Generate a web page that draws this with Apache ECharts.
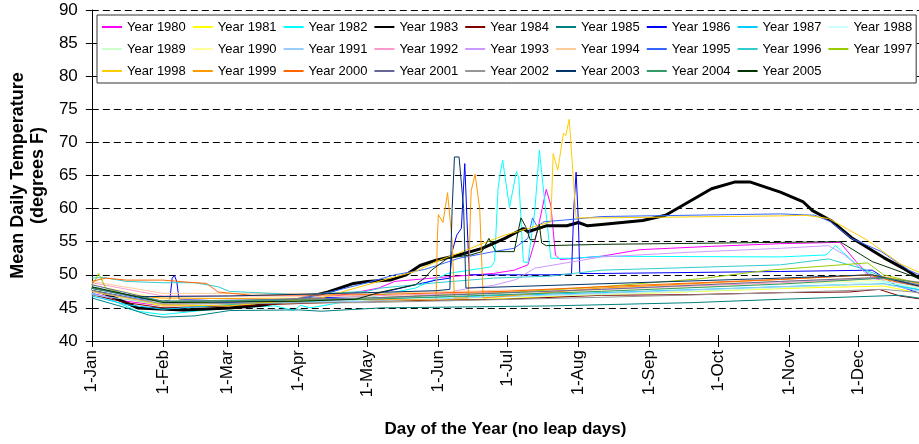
<!DOCTYPE html>
<html><head><meta charset="utf-8">
<script src="https://cdn.jsdelivr.net/npm/echarts@6/dist/echarts.min.js"></script>
<style>html,body{margin:0;padding:0;background:#fff}#c{width:919px;height:444px}</style>
</head><body><div id="c"></div>
<script>
const monthLabels = ['1-Jan','1-Feb','1-Mar','1-Apr','1-May','1-Jun','1-Jul','1-Aug','1-Sep','1-Oct','1-Nov','1-Dec'];
const monthStartDays = [0,31,59,90,120,151,181,212,243,273,304,334];
const yTicks = [40,45,50,55,60,65,70,75,80,85,90];

const seriesNames = ['Year 1980','Year 1981','Year 1982','Year 1983','Year 1984','Year 1985','Year 1986','Year 1987','Year 1988',
  'Year 1989','Year 1990','Year 1991','Year 1992','Year 1993','Year 1994','Year 1995','Year 1996','Year 1997',
  'Year 1998','Year 1999','Year 2000','Year 2001','Year 2002','Year 2003','Year 2004','Year 2005'];
const seriesColors = ['#FF00FF','#FFFF00','#00FFFF','#000000','#800000','#008080','#0000FF','#00CCFF','#CCFFFF',
  '#CCFFCC','#FFFF99','#99CCFF','#FF99CC','#CC99FF','#FFCC99','#3366FF','#33CCCC','#99CC00',
  '#FFCC00','#FF9900','#FF6600','#666699','#969696','#003366','#339966','#003300'];

// [day of year (0 = 1-Jan), mean daily temperature]
const y1980 = [[0,47.2],[15,46],[31,45.3],[60,45.4],[90,46],[110,47],[125,48],[132,49],[155,49.7],[175,50.2],[184,50.7],[190,51.5],[193,55],[195,58],[198,62.9],[200,60.5],[202,53],[204,52.3],[222,52.8],[239,53.8],[270,54.3],[300,54.7],[326,54.9],[333,52],[340,49.5],[364,48]];
const y1981 = [[0,47.5],[12,46.5],[31,45.3],[60,45.4],[120,46],[180,46.4],[222,47],[308,48],[345,48.3],[364,47]];
const y1982 = [[0,47.2],[10,46],[20,44.5],[31,44],[45,44.5],[60,45],[80,45.3],[88,44.6],[91,45.4],[95,45],[105,45.6],[120,46.5],[141,48],[155,50.2],[174,51.2],[175.5,52],[177,63],[178,65.5],[179,67.3],[182,60.2],[185,65.6],[186,64.7],[188,52],[190,51.8],[193,59.6],[195,68.8],[197,62.2],[200,52.5],[210,52.5],[222,52.8],[300,52.7],[320,53],[324,54.4],[335,51],[345,49],[364,47.5]];
const y1983 = [[0,48],[10,46.5],[20,45],[40,44.7],[60,45],[74,45.4],[90,46.3],[103,47.4],[114,48.7],[120,49],[130,49.2],[137,50],[143,51.4],[150,52.2],[160,53],[170,54],[180,55.5],[188,57],[190,56.5],[198,57.4],[207,57.4],[212,57.9],[216,57.4],[222,57.6],[240,58.2],[250,59],[260,61],[270,63],[280,64],[287,64],[300,62.5],[310,61],[314,59.7],[322,58.2],[331,55.6],[345,52.6],[355,50.7],[360,49.6],[364,49]];
const y1984 = [[0,47],[15,45.8],[31,45],[60,45.3],[120,46],[180,46.3],[222,46.9],[260,47],[300,47.3],[330,47.4],[343,47.8],[352,46.8],[364,46.2]];
const y1985 = [[0,46.5],[15,45],[25,43.9],[31,43.6],[45,43.8],[60,44.6],[90,44.7],[100,44.5],[126,45],[200,45.3],[262,45.8],[300,46.3],[352,46.9],[364,46.3]];
const y1986 = [[0,47.8],[20,46.3],[31,46],[34,46.2],[35,49.5],[36,49.9],[37,49],[38,46.3],[60,46],[120,46.8],[141,48.5],[150,49.2],[156,49.5],[157,53.5],[159,56],[161,57],[162.5,66.8],[163.5,58],[164.5,50],[200,50],[209,50.1],[210,60],[211,65.5],[212,58],[212.6,50.2],[222,50.2],[300,50.5],[340,50.7],[350,48.5],[364,46.8]];
const y1987 = [[0,46.8],[15,45.5],[31,44.8],[60,45.5],[120,46.3],[222,47.3],[300,48.2],[345,48.7],[364,47.5]];
const y1988 = [[0,48.3],[31,46],[120,46.5],[222,47.5],[300,48.5],[345,49],[364,48]];
const y1989 = [[0,47.8],[31,45.8],[120,46.2],[222,47],[300,48],[345,48.8],[364,47.8]];
const y1990 = [[0,48.5],[31,46.3],[120,46.8],[222,47.6],[300,48.6],[345,49.2],[364,48.2]];
const y1991 = [[0,47],[31,45.5],[120,46],[222,47.2],[300,48.2],[345,48.6],[364,47.3]];
const y1992 = [[0,48.8],[31,46.8],[120,46.8],[222,47.8],[300,48.8],[345,49.5],[364,48.8]];
const y1993 = [[0,47.4],[31,45.6],[120,46.3],[150,47],[165,48],[175,48.4],[185,49.3],[193,51],[222,52.7],[260,53.4],[300,54],[321,54.4],[328,53],[338,50],[364,48.3]];
const y1994 = [[0,49],[31,47.2],[120,47.2],[222,48],[300,49],[345,49.7],[364,48.5]];
const y1995 = [[0,48],[20,46.5],[31,46],[60,45.8],[90,46.3],[105,47.5],[120,48.8],[132,50],[145,50.8],[160,52.5],[175,53.5],[184,54],[190,55.5],[192,58.6],[194,57.3],[197,58],[210,58.4],[222,58.8],[300,59.2],[315,59],[322,58],[331,55.5],[344,53.5],[356,50.7],[364,49.5]];
const y1996 = [[0,49.5],[5,49.6],[15,49],[31,48.8],[45,48.8],[55,48.2],[60,47.5],[90,47],[120,47.5],[126,48],[150,48.8],[175,49.5],[200,49.8],[222,50.7],[300,51.5],[321,52.4],[335,51],[350,49],[364,48]];
const y1997 = [[0,48.5],[2,49.5],[3,50.2],[4,49.5],[6,48],[15,47],[31,46],[60,45.6],[120,46.5],[180,47.3],[222,48.2],[265,49.4],[295,50.7],[338,51.8],[345,50],[364,48.4]];
const y1998 = [[0,47.5],[31,45.5],[60,45.3],[100,46.5],[115,48],[130,49.5],[141,50.5],[150,52],[160,53.3],[170,54.7],[180,56],[190,57],[196,57.6],[200,58],[201,68.3],[203,65.8],[205.5,71.4],[206.5,71],[208,73.5],[211,58.6],[222,58.6],[300,58.9],[311,59],[321,58.5],[338,55.2],[352,51.7],[364,49.8]];
const y1999 = [[0,48],[15,47],[30,46.5],[100,46.3],[150,46.2],[150.5,55],[151,59.1],[153,57.9],[155,62.4],[157,55],[158,46.5],[164,46.5],[165,60],[165.3,62.7],[167,65.2],[169,60],[170.5,46.5],[222,48],[300,49.3],[340,50],[364,48.5]];
const y2000 = [[0,49],[6,49.5],[15,49.2],[31,49.2],[45,48.8],[50,48.7],[55,47.4],[70,46.9],[120,47],[180,47.5],[222,48.2],[300,49.3],[338,50],[350,49],[364,48]];
const y2001 = [[0,48.5],[31,46],[120,46.5],[222,47.8],[300,49],[345,49.6],[364,48.2]];
const y2002 = [[0,47.6],[31,45.6],[120,45.8],[222,46.6],[300,47.3],[345,47.8],[364,47.2]];
const y2003 = [[0,48],[20,46.7],[60,46.8],[120,47.3],[150,47.6],[156,47.8],[157,60],[158,67.8],[160,67.8],[162,60],[163,48],[200,48.4],[300,49.5],[340,50],[364,48]];
const y2004 = [[0,48],[31,46],[120,46.3],[222,47.5],[300,48.6],[345,49.5],[364,48.7]];
const y2005 = [[0,48.2],[31,45.8],[90,46],[115,46.3],[126,47.4],[141,48.5],[145,49.5],[148,50.7],[155,52.5],[165,53],[170,53.5],[173,55.5],[176,53.5],[184,53.5],[186,57],[187,58.6],[189,57.3],[191,55.3],[193,55.3],[195,57.6],[196,54.8],[198,54.4],[222,54.6],[300,54.9],[326,55],[340,52],[360,49.5],[364,49]];

const seriesData = [y1980,y1981,y1982,y1983,y1984,y1985,y1986,y1987,y1988,y1989,y1990,y1991,y1992,
  y1993,y1994,y1995,y1996,y1997,y1998,y1999,y2000,y2001,y2002,y2003,y2004,y2005];

const FONT = '"Liberation Sans", Arial, sans-serif';
const chart = echarts.init(document.getElementById('c'), null, {renderer: 'canvas'});

const series = seriesData.map((d, i) => ({
  name: seriesNames[i],
  type: 'line',
  data: d,
  xAxisIndex: 0,
  yAxisIndex: 0,
  symbol: 'none',
  showSymbol: false,
  animation: false,
  color: seriesColors[i],
  lineStyle: {color: seriesColors[i], width: seriesNames[i] === 'Year 1983' ? 3 : 1}
}));

const baseX = {
  type: 'value', min: 0, max: 360.4, position: 'bottom',
  splitLine: {show: false}
};
const baseY = {
  type: 'value', min: 40, max: 90, interval: 5, position: 'left'
};

chart.setOption({
  animation: false,
  backgroundColor: '#fff',
  grid: {left: 88, right: 0, top: 10, bottom: 103, containLabel: false},
  legend: {
    data: seriesNames,
    left: 97, top: 15, width: 830,
    orient: 'horizontal',
    padding: [4, 4, 4, 4],
    itemWidth: 20, itemHeight: 14, itemGap: 6,
    backgroundColor: '#fff',
    borderColor: '#333', borderWidth: 1,
    selectedMode: false,
    itemStyle: {color: 'rgba(0,0,0,0)', borderColor: 'rgba(0,0,0,0)', borderWidth: 0},
    textStyle: {fontFamily: FONT, fontSize: 13, color: '#000', lineHeight: 16}
  },
  xAxis: [
    Object.assign({}, baseX, {
      name: 'Day of the Year (no leap days)',
      nameLocation: 'middle', nameGap: 80,
      nameTextStyle: {fontFamily: FONT, fontSize: 17, fontWeight: 'bold', color: '#000'},
      axisLine: {onZero: false, lineStyle: {color: '#000', width: 1}},
      axisTick: {show: true, customValues: monthStartDays, length: 6, inside: false, lineStyle: {color: '#000'}},
      axisLabel: {
        customValues: monthStartDays, rotate: 90, margin: 9,
        fontFamily: FONT, fontSize: 17, color: '#000',
        formatter: v => monthLabels[monthStartDays.indexOf(v)]
      }
    }),
    Object.assign({}, baseX, {
      axisLine: {show: false, onZero: false},
      axisTick: {show: true, customValues: monthStartDays, length: 6, inside: true, lineStyle: {color: '#000'}},
      axisLabel: {show: false}
    })
  ],
  yAxis: [
    Object.assign({}, baseY, {
      name: 'Mean Daily Temperature\n(degrees F)',
      nameLocation: 'middle', nameGap: 42, nameRotate: 90,
      nameTextStyle: {fontFamily: FONT, fontSize: 18, fontWeight: 'bold', color: '#000', lineHeight: 20, align: 'center'},
      axisLine: {show: true, onZero: false, lineStyle: {color: '#000', width: 1}},
      axisTick: {show: true, length: 6, inside: false, lineStyle: {color: '#000'}},
      axisLabel: {margin: 14, fontFamily: FONT, fontSize: 17, color: '#000',
        formatter: v => (yTicks.indexOf(v) >= 0 ? String(v) : '')},
      splitLine: {show: true, lineStyle: {color: '#000', width: 1, type: [7, 4]}}
    }),
    Object.assign({}, baseY, {
      axisLine: {show: false, onZero: false},
      axisTick: {show: true, length: 6, inside: true, lineStyle: {color: '#000'}},
      axisLabel: {show: false},
      splitLine: {show: false}
    })
  ],
  series: series
});
</script>
</body></html>
